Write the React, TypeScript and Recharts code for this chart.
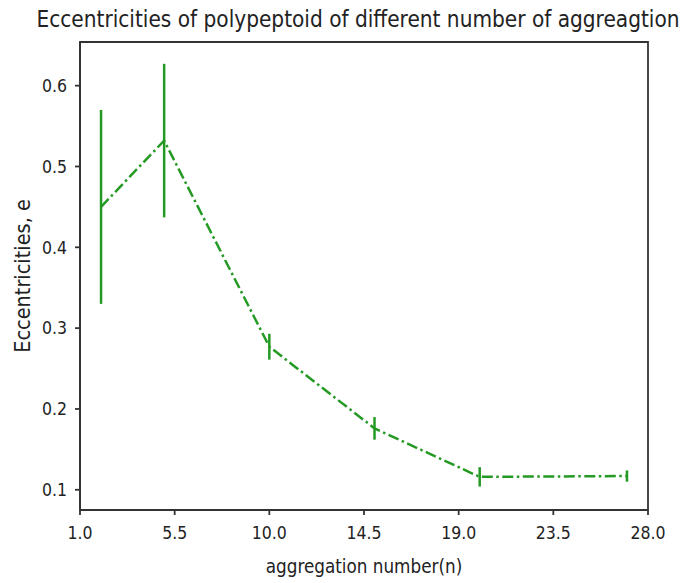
import React from 'react';
import { LineChart, Line, XAxis, YAxis, ErrorBar, ReferenceArea, Label } from 'recharts';

const aggregation = [2, 5, 10, 15, 20, 27];
const eccentricity = [0.45, 0.532, 0.277, 0.176, 0.116, 0.117];
const spread = [0.12, 0.095, 0.016, 0.014, 0.012, 0.007];
const xTicks = [1.0, 5.5, 10.0, 14.5, 19.0, 23.5, 28.0];
const yTicks = [0.1, 0.2, 0.3, 0.4, 0.5, 0.6];

const data = aggregation.map((n, i) => ({ n, e: eccentricity[i], err: spread[i] }));

const GREEN = '#249a24';
const FONT = '"DejaVu Sans Condensed", "DejaVu Sans", sans-serif';

export default function App() {
  return (
    <div style={{ position: 'absolute', left: 0, top: 0, width: 689, height: 583, background: '#fff', fontFamily: FONT }}>
      <div style={{ position: 'absolute', top: 6, left: 0, width: 716, textAlign: 'center', fontSize: 22.4, color: '#222', whiteSpace: 'nowrap' }}>
        Eccentricities of polypeptoid of different number of aggreagtion
      </div>
      <LineChart width={689} height={583} data={data} margin={{ top: 42, right: 41, bottom: 43, left: 20 }}>
        <XAxis
          type="number"
          dataKey="n"
          domain={[1, 28]}
          ticks={xTicks}
          allowDataOverflow
          tickFormatter={(v: number) => v.toFixed(1)}
          stroke="#333"
          strokeWidth={1.8}
          tickSize={5}
          tickMargin={12}
          height={30}
          tick={{ fill: '#222', fontSize: 17.5, fontFamily: FONT }}
        >
          <Label value="aggregation number(n)" position="bottom" offset={20} style={{ fill: '#222', fontSize: 18.7, fontFamily: FONT }} />
        </XAxis>
        <YAxis
          type="number"
          domain={[0.075, 0.654]}
          ticks={yTicks}
          allowDataOverflow
          tickFormatter={(v: number) => v.toFixed(1)}
          stroke="#333"
          strokeWidth={1.8}
          tickSize={5}
          tickMargin={8}
          width={60}
          tick={{ fill: '#222', fontSize: 17.5, fontFamily: FONT }}
        >
          <Label value="Eccentricities, e" angle={-90} position="insideLeft" offset={2} style={{ fill: '#222', fontSize: 21.5, fontFamily: FONT, textAnchor: 'middle' }} />
        </YAxis>
        <ReferenceArea x1={1} x2={28} y1={0.075} y2={0.654} fill="none" stroke="#333" strokeWidth={1.8} />
        <Line
          dataKey="e"
          stroke={GREEN}
          strokeWidth={2.5}
          strokeDasharray="11 3.5 2.5 3.5"
          dot={false}
          isAnimationActive={false}
        >
          <ErrorBar dataKey="err" direction="y" width={0} stroke={GREEN} strokeWidth={2.5} />
        </Line>
      </LineChart>
    </div>
  );
}
